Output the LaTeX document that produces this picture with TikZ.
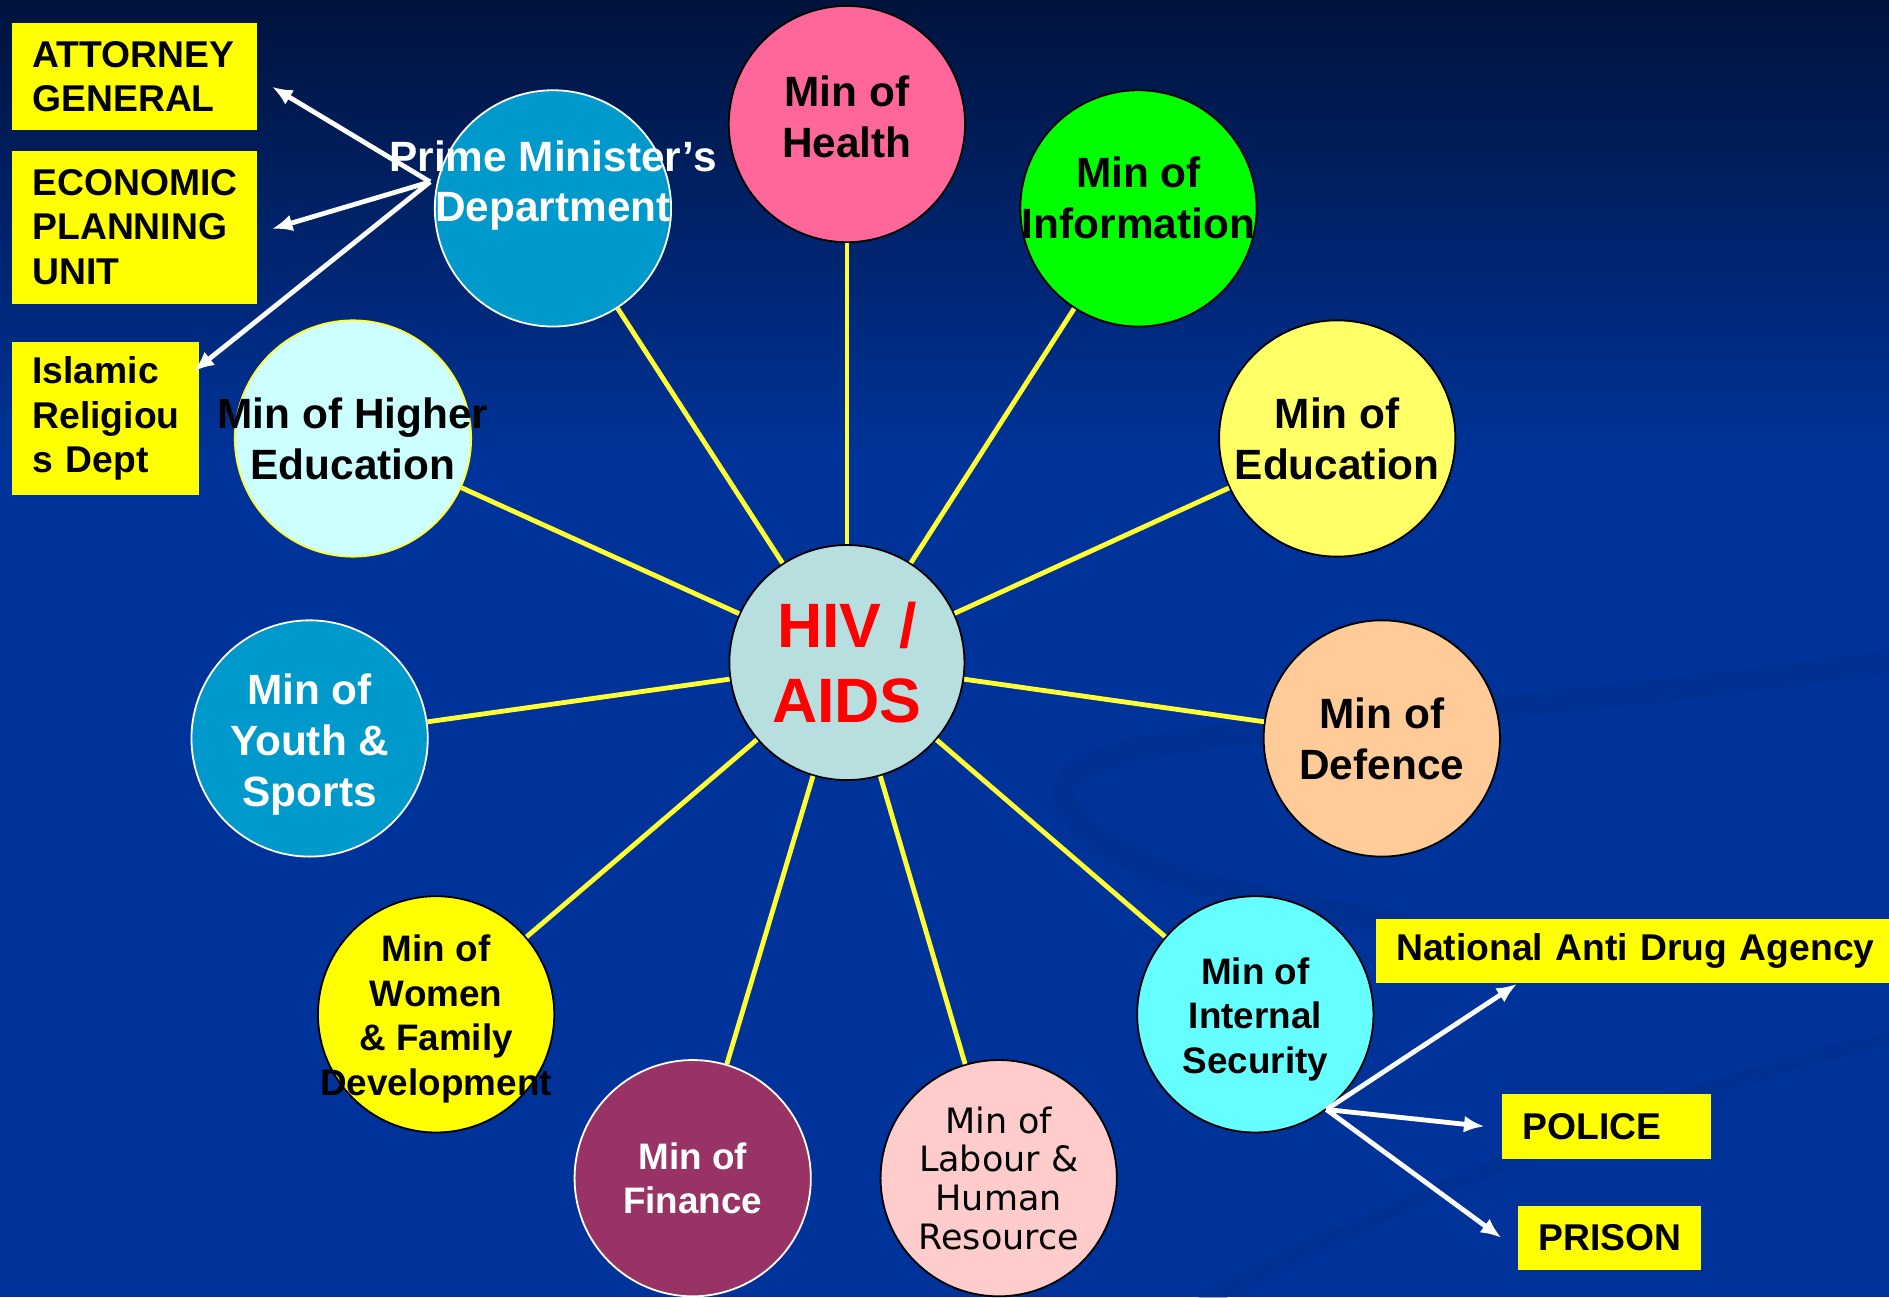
\documentclass[tikz,border=0pt]{standalone}
\usepackage{fontspec}
\setmainfont{Liberation Sans}
\newfontfamily\labourfont{DejaVu Sans}
\usetikzlibrary{arrows.meta}

\definecolor{bgblue}{HTML}{003399}
\definecolor{bgtop}{HTML}{00133C}
\definecolor{swooshblue}{HTML}{002C88}
\definecolor{spokeyellow}{HTML}{FFFF33}
\definecolor{agencyyellow}{HTML}{FFFF00}
\definecolor{hivfill}{HTML}{B8DFE0}
\definecolor{healthpink}{HTML}{FF6699}
\definecolor{infogreen}{HTML}{00FF00}
\definecolor{edufill}{HTML}{FFFF66}
\definecolor{defencefill}{HTML}{FFCC99}
\definecolor{securityfill}{HTML}{66FFFF}
\definecolor{labourfill}{HTML}{FFCCCC}
\definecolor{financefill}{HTML}{993366}
\definecolor{womenfill}{HTML}{FFFF00}
\definecolor{pmblue}{HTML}{0099CC}
\definecolor{higherfill}{HTML}{CCFFFF}

\begin{document}
\begin{tikzpicture}[x=0.01cm,y=-0.01cm]

			\tikzstyle{ministry}=[circle,draw=black,line width=0.015cm,
				minimum size=1.96cm,inner sep=0pt]
			\tikzstyle{mtext}=[align=center,inner sep=0pt,
				font=\bfseries\fontsize{10}{12}\selectfont]
			\tikzstyle{stext}=[mtext,font=\bfseries\fontsize{8.7}{10.5}\selectfont]
			\tikzstyle{agency}=[fill=agencyyellow,inner xsep=0.17cm,
				inner ysep=0pt,align=left,
				font=\bfseries\fontsize{8.8}{10.5}\selectfont]
			\tikzstyle{spoke}=[spokeyellow,line width=0.04cm]
			\tikzstyle{link}=[white,line width=0.04cm,
				-{Latex[length=0.17cm,width=0.14cm]}]
			\tikzstyle{swoosh}=[swooshblue,opacity=0.4,line cap=round]

			% background
			\useasboundingbox (0,0) rectangle (1568,1077);
			\fill[top color=bgtop,bottom color=bgblue] (0,0) rectangle (1568,380);
			\fill[bgblue] (0,379) rectangle (1568,1077);
			\draw[swoosh,line width=0.2cm] (1575,548) .. controls (1150,610) and (860,600) .. (885,665)
				.. controls (905,715) and (1010,745) .. (1160,765);
			\draw[swoosh,line width=0.12cm] (1000,1080) .. controls (1250,950) and (1450,890) .. (1575,860);

			\node[ministry,fill=hivfill,minimum size=1.95cm,
				label={[mtext,font=\bfseries\fontsize{14.8}{17.6}\selectfont,text=red]center:{HIV /\\AIDS}}]
				(hiv) at (703,550) {};

			\node[ministry,fill=healthpink,label={[mtext,yshift=0.06cm]center:{Min of\\Health}}]
				(health) at (703,103) {};
			\node[ministry,fill=infogreen,label={[mtext,yshift=0.09cm]center:{Min of\\Information}}]
				(info) at (945,173) {};
			\node[ministry,fill=edufill,label={[mtext]center:{Min of\\Education}}]
				(edu) at (1110,364) {};
			\node[ministry,fill=defencefill,label={[mtext]center:{Min of\\Defence}}]
				(defence) at (1147,613) {};
			\node[ministry,fill=securityfill,label={[stext,yshift=-0.04cm]center:{Min of\\Internal\\Security}}]
				(security) at (1042,842) {};
			\node[ministry,fill=labourfill,
				label={[mtext,font=\labourfont\fontsize{8.25}{9.1}\selectfont]center:{Min of\\Labour \&\\Human\\Resource}}]
				(labour) at (829,978) {};
			\node[ministry,fill=financefill,draw=white,label={[stext,text=white]center:{Min of\\Finance}}]
				(finance) at (575,978) {};
			\node[ministry,fill=womenfill,label={[stext,yshift=-0.04cm]center:{Min of\\Women\\\& Family\\Development}}]
				(women) at (362,842) {};
			\node[ministry,fill=pmblue,draw=white,label={[mtext,text=white,yshift=-0.05cm]center:{Min of\\Youth \&\\Sports}}]
				(youth) at (257,613) {};
			\node[ministry,fill=higherfill,draw=spokeyellow,label={[mtext]center:{Min of Higher\\Education}}]
				(higher) at (293,364) {};
			\node[ministry,fill=pmblue,draw=white,label={[mtext,text=white,yshift=0.19cm]center:{Prime Minister’s\\Department}}]
				(pm) at (459,173) {};

			\foreach \m in {health,info,edu,defence,security,labour,finance,women,youth,higher,pm}
				\draw[spoke] (hiv) -- (\m);

			% units under the Prime Minister's Department
			\node[agency,text width=1.69cm,minimum height=0.89cm]	(attorney)	at (111.5,63.5)	{ATTORNEY\\GENERAL};
			\node[agency,text width=1.69cm,minimum height=1.27cm]	(planning)	at (111.5,188.5)	{ECONOMIC\\PLANNING\\UNIT};
			\node[agency,text width=1.21cm,minimum height=1.27cm]	(islamic)	at (87.5,347.5)	{Islamic\\Religiou\\s Dept};
			\coordinate (pmhub) at (357,151);
			\draw[link] (pmhub) -- ([xshift=0.12cm,yshift=-0.085cm]attorney.east);
			\draw[link] (pmhub) -- ([xshift=0.12cm,yshift=-0.015cm]planning.east);
			\draw[link] (pmhub) -- ([xshift=-0.05cm,yshift=-0.25cm]islamic.north east);

			% units under Internal Security
			\node[agency,text width=4.0cm,minimum height=0.53cm]	(antidrug)	at (1359,789.5)	{National Anti Drug Agency};
			\node[agency,text width=1.39cm,minimum height=0.54cm]	(police)	at (1333.5,935)	{POLICE};
			\node[agency,text width=1.18cm,minimum height=0.53cm]	(prison)	at (1336,1027.5)	{PRISON};
			\coordinate (ishub) at (1101,921);
			\draw[link] (ishub) -- ([xshift=1.18cm]antidrug.south west);
			\draw[link] (ishub) -- ([xshift=-0.14cm]police.west);
			\draw[link] (ishub) -- ([xshift=-0.13cm]prison.west);

\end{tikzpicture}
\end{document}
